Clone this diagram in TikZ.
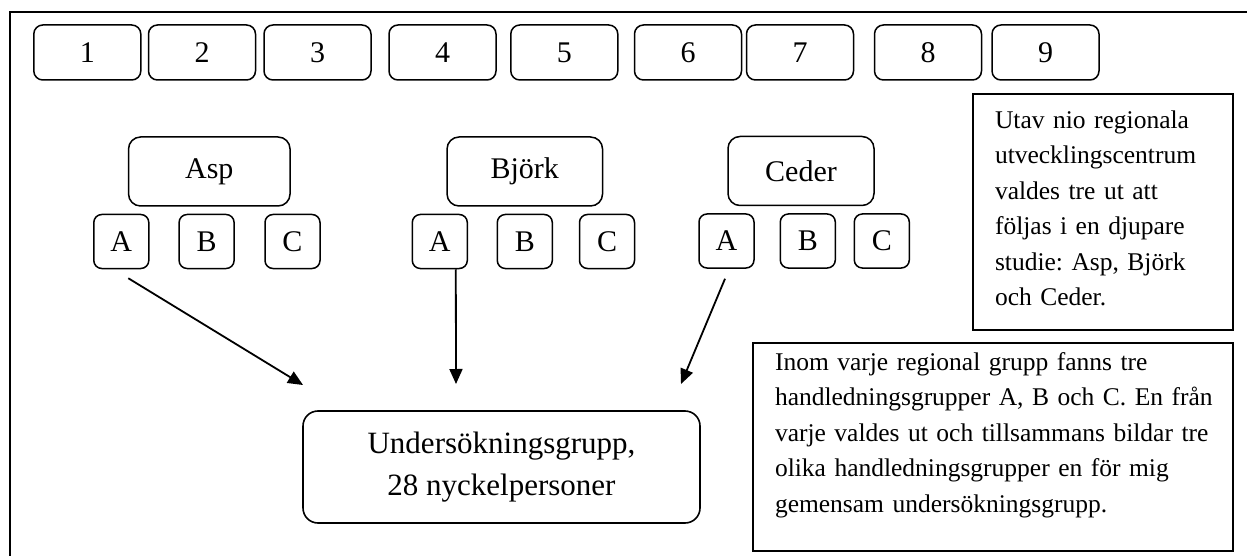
\documentclass[tikz,border=0pt]{standalone}
\usepackage{fontspec}
\setmainfont{Liberation Serif}
\usetikzlibrary{arrows.meta}
\frenchspacing
\begin{document}
\begin{tikzpicture}[x=1pt,y=-1pt,
  numbox/.style={draw, line width=1.5pt, rounded corners=9pt, inner sep=0pt,
    minimum width=107pt, minimum height=55pt, font=\fontsize{30}{30}\selectfont},
  grpbox/.style={draw, line width=1.5pt, rounded corners=12pt, inner sep=0pt,
    minimum height=69pt, font=\fontsize{30}{30}\selectfont},
  letbox/.style={draw, line width=1.5pt, rounded corners=8pt, inner sep=0pt,
    minimum width=55pt, minimum height=54pt, font=\fontsize{30}{30}\selectfont},
  txtbox/.style={draw, line width=1.6pt, inner xsep=0pt, inner ysep=0pt,
    align=left, text height=17.4pt, font=\fontsize{25.5}{35.5}\selectfont},
  mainbox/.style={draw, line width=1.6pt, rounded corners=15pt, inner sep=0pt,
    minimum width=397pt, minimum height=112pt, align=center,
    font=\fontsize{31}{42}\selectfont},
  arr/.style={line width=1.8pt, -{Triangle[length=15pt,width=13pt]}}
]
\useasboundingbox (0,0) rectangle (1247,556);
\clip (0,0) rectangle (1247,556);
\draw[line width=2pt] (10,12) rectangle (1270,580);

% numbered boxes
\node[numbox] (n1) at (87.3,52.5) {1};
\node[numbox] (n2) at (202,52.5) {2};
\node[numbox] (n3) at (317.5,52.5) {3};
\node[numbox] (n4) at (442.5,52.5) {4};
\node[numbox] (n5) at (564.3,52.5) {5};
\node[numbox] (n6) at (688,52.5) {6};
\node[numbox] (n7) at (800,52.5) {7};
\node[numbox] (n8) at (928,52.5) {8};
\node[numbox] (n9) at (1045.5,52.5) {9};

% groups
\node[grpbox, minimum width=161.5pt] (asp) at (209.3,171.5) {Asp};
\node[grpbox, minimum width=155.5pt] (bjork) at (524.8,171.5) {Björk};
\node[grpbox, minimum width=146pt] (ceder) at (801,171) {Ceder};

\node[letbox] (aA) at (121.3,241.5) {A};
\node[letbox] (aB) at (206.6,241.5) {B};
\node[letbox] (aC) at (292.5,241.5) {C};
\node[letbox] (bA) at (439.8,241.5) {A};
\node[letbox] (bB) at (524.8,241.5) {B};
\node[letbox] (bC) at (607,241.5) {C};
\node[letbox] (cA) at (726.5,241) {A};
\node[letbox] (cB) at (807.8,241) {B};
\node[letbox] (cC) at (881.8,241) {C};

% main box
\node[mainbox] (u) at (501.5,467) {Undersökningsgrupp,\\28 nyckelpersoner};

% text boxes
\node[txtbox, text width=260pt, minimum height=236pt, text depth=185pt] (t1) at (1103,212)
  {\leftskip=22pt\relax Utav nio regionala\\utvecklingscentrum\\valdes tre ut att\\följas i en djupare\\studie: Asp, Björk\\och Ceder.\par};
\node[txtbox, text width=480pt, minimum height=208pt, text depth=171pt] (t2) at (993,447)
  {\leftskip=22pt\relax Inom varje regional grupp fanns tre\\handledningsgrupper A, B och C. En från\\varje valdes ut och tillsammans bildar tre\\olika handledningsgrupper en för mig\\gemensam undersökningsgrupp.\par};

% arrows
\coordinate (e1) at (303,385);
\coordinate (e2) at (456,384);
\coordinate (e3) at (681,384);
\draw[arr] ([xshift=7pt,yshift=-9pt]aA.south) -- (e1);
\draw[arr] ([xshift=16pt]bA.south) -- (e2);
\draw[arr] ([xshift=-1.5pt,yshift=-10pt]cA.south) -- (e3);
\end{tikzpicture}
\end{document}
